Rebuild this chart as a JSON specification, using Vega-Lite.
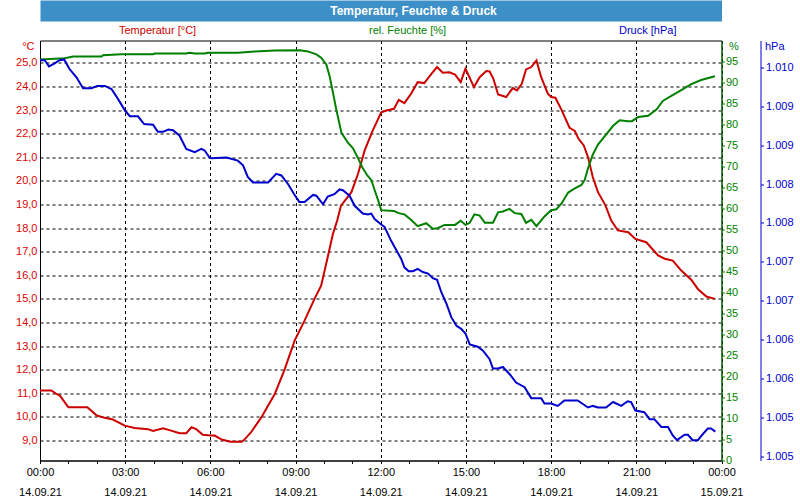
{
  "$schema": "https://vega.github.io/schema/vega-lite/v6.json",
  "autosize": {"type": "none"},
  "padding": {"left": 40, "top": 40.5, "right": 78.5, "bottom": 39.5},
  "background": "white",
  "width": 681.5,
  "height": 420,
  "config": {
    "font": "Liberation Sans",
    "axis": {"labelFont": "Liberation Sans", "labelFontSize": 11, "titleFont": "Liberation Sans", "titleFontSize": 11, "titleFontWeight": "normal"}
  },
  "datasets": {
    "temp": [
      {"t": "2021-09-14 00:00", "v": 11.12}, {"t": "2021-09-14 00:24", "v": 11.12}, {"t": "2021-09-14 00:35", "v": 10.97},
      {"t": "2021-09-14 00:42", "v": 10.9}, {"t": "2021-09-14 01:00", "v": 10.41}, {"t": "2021-09-14 01:40", "v": 10.41},
      {"t": "2021-09-14 02:00", "v": 10.06}, {"t": "2021-09-14 02:17", "v": 9.96}, {"t": "2021-09-14 02:34", "v": 9.89},
      {"t": "2021-09-14 02:59", "v": 9.63}, {"t": "2021-09-14 03:20", "v": 9.53}, {"t": "2021-09-14 03:48", "v": 9.48},
      {"t": "2021-09-14 03:59", "v": 9.4}, {"t": "2021-09-14 04:20", "v": 9.52}, {"t": "2021-09-14 04:37", "v": 9.42},
      {"t": "2021-09-14 04:55", "v": 9.31}, {"t": "2021-09-14 05:09", "v": 9.31}, {"t": "2021-09-14 05:20", "v": 9.56},
      {"t": "2021-09-14 05:30", "v": 9.48}, {"t": "2021-09-14 05:44", "v": 9.24}, {"t": "2021-09-14 06:02", "v": 9.21},
      {"t": "2021-09-14 06:09", "v": 9.21}, {"t": "2021-09-14 06:24", "v": 9.04}, {"t": "2021-09-14 06:42", "v": 8.95},
      {"t": "2021-09-14 07:06", "v": 8.95}, {"t": "2021-09-14 07:12", "v": 9.04}, {"t": "2021-09-14 07:26", "v": 9.35},
      {"t": "2021-09-14 07:48", "v": 9.99}, {"t": "2021-09-14 08:16", "v": 10.97}, {"t": "2021-09-14 08:36", "v": 11.96},
      {"t": "2021-09-14 08:58", "v": 13.23}, {"t": "2021-09-14 09:19", "v": 14.08}, {"t": "2021-09-14 09:40", "v": 15.0},
      {"t": "2021-09-14 09:54", "v": 15.56}, {"t": "2021-09-14 10:08", "v": 16.77}, {"t": "2021-09-14 10:19", "v": 17.76},
      {"t": "2021-09-14 10:28", "v": 18.32}, {"t": "2021-09-14 10:36", "v": 18.95}, {"t": "2021-09-14 10:58", "v": 19.52},
      {"t": "2021-09-14 11:12", "v": 20.3}, {"t": "2021-09-14 11:26", "v": 21.29}, {"t": "2021-09-14 11:43", "v": 22.13},
      {"t": "2021-09-14 12:01", "v": 22.9}, {"t": "2021-09-14 12:12", "v": 22.98}, {"t": "2021-09-14 12:28", "v": 23.05},
      {"t": "2021-09-14 12:38", "v": 23.43}, {"t": "2021-09-14 12:50", "v": 23.29}, {"t": "2021-09-14 13:04", "v": 23.69},
      {"t": "2021-09-14 13:18", "v": 24.18}, {"t": "2021-09-14 13:32", "v": 24.14}, {"t": "2021-09-14 13:47", "v": 24.53},
      {"t": "2021-09-14 13:59", "v": 24.82}, {"t": "2021-09-14 14:11", "v": 24.58}, {"t": "2021-09-14 14:25", "v": 24.6},
      {"t": "2021-09-14 14:37", "v": 24.5}, {"t": "2021-09-14 14:49", "v": 24.18}, {"t": "2021-09-14 14:59", "v": 24.75},
      {"t": "2021-09-14 15:17", "v": 23.97}, {"t": "2021-09-14 15:29", "v": 24.39}, {"t": "2021-09-14 15:43", "v": 24.65},
      {"t": "2021-09-14 15:50", "v": 24.63}, {"t": "2021-09-14 15:58", "v": 24.32}, {"t": "2021-09-14 16:08", "v": 23.66},
      {"t": "2021-09-14 16:25", "v": 23.55}, {"t": "2021-09-14 16:39", "v": 23.93}, {"t": "2021-09-14 16:48", "v": 23.83},
      {"t": "2021-09-14 16:58", "v": 24.11}, {"t": "2021-09-14 17:07", "v": 24.72}, {"t": "2021-09-14 17:18", "v": 24.82},
      {"t": "2021-09-14 17:29", "v": 25.1}, {"t": "2021-09-14 17:39", "v": 24.39}, {"t": "2021-09-14 17:53", "v": 23.69},
      {"t": "2021-09-14 18:00", "v": 23.55}, {"t": "2021-09-14 18:09", "v": 23.52}, {"t": "2021-09-14 18:21", "v": 23.05},
      {"t": "2021-09-14 18:39", "v": 22.25}, {"t": "2021-09-14 18:50", "v": 22.11}, {"t": "2021-09-14 18:58", "v": 21.78},
      {"t": "2021-09-14 19:09", "v": 21.5}, {"t": "2021-09-14 19:18", "v": 21.0}, {"t": "2021-09-14 19:28", "v": 20.16},
      {"t": "2021-09-14 19:39", "v": 19.52}, {"t": "2021-09-14 19:55", "v": 18.95}, {"t": "2021-09-14 20:07", "v": 18.32},
      {"t": "2021-09-14 20:21", "v": 17.9}, {"t": "2021-09-14 20:43", "v": 17.82}, {"t": "2021-09-14 20:58", "v": 17.54},
      {"t": "2021-09-14 21:21", "v": 17.4}, {"t": "2021-09-14 21:46", "v": 16.84}, {"t": "2021-09-14 22:00", "v": 16.7},
      {"t": "2021-09-14 22:17", "v": 16.62}, {"t": "2021-09-14 22:35", "v": 16.2}, {"t": "2021-09-14 22:56", "v": 15.81},
      {"t": "2021-09-14 23:10", "v": 15.42}, {"t": "2021-09-14 23:28", "v": 15.1}, {"t": "2021-09-14 23:46", "v": 15.0}
    ],
    "hum": [
      {"t": "2021-09-14 00:00", "v": 95.5}, {"t": "2021-09-14 00:52", "v": 95.8}, {"t": "2021-09-14 01:10", "v": 96.2},
      {"t": "2021-09-14 02:10", "v": 96.2}, {"t": "2021-09-14 02:13", "v": 96.5}, {"t": "2021-09-14 02:52", "v": 96.7},
      {"t": "2021-09-14 03:59", "v": 96.7}, {"t": "2021-09-14 04:02", "v": 96.9}, {"t": "2021-09-14 05:09", "v": 96.9},
      {"t": "2021-09-14 05:16", "v": 97.1}, {"t": "2021-09-14 05:27", "v": 96.9}, {"t": "2021-09-14 05:48", "v": 96.9},
      {"t": "2021-09-14 05:55", "v": 97.1}, {"t": "2021-09-14 06:58", "v": 97.1}, {"t": "2021-09-14 07:34", "v": 97.4},
      {"t": "2021-09-14 08:16", "v": 97.6}, {"t": "2021-09-14 09:09", "v": 97.7}, {"t": "2021-09-14 09:26", "v": 97.4},
      {"t": "2021-09-14 09:44", "v": 96.7}, {"t": "2021-09-14 09:54", "v": 95.9}, {"t": "2021-09-14 10:05", "v": 94.3},
      {"t": "2021-09-14 10:12", "v": 91.5}, {"t": "2021-09-14 10:19", "v": 87.6}, {"t": "2021-09-14 10:26", "v": 83.6},
      {"t": "2021-09-14 10:37", "v": 78.0}, {"t": "2021-09-14 10:51", "v": 75.6}, {"t": "2021-09-14 11:01", "v": 74.4},
      {"t": "2021-09-14 11:12", "v": 72.0}, {"t": "2021-09-14 11:20", "v": 70.0}, {"t": "2021-09-14 11:32", "v": 67.8},
      {"t": "2021-09-14 11:40", "v": 66.8}, {"t": "2021-09-14 11:47", "v": 64.4}, {"t": "2021-09-14 11:58", "v": 60.8},
      {"t": "2021-09-14 12:01", "v": 59.6}, {"t": "2021-09-14 12:12", "v": 59.5}, {"t": "2021-09-14 12:28", "v": 59.4},
      {"t": "2021-09-14 12:38", "v": 58.9}, {"t": "2021-09-14 12:50", "v": 58.6}, {"t": "2021-09-14 13:04", "v": 57.3},
      {"t": "2021-09-14 13:18", "v": 55.8}, {"t": "2021-09-14 13:36", "v": 56.5}, {"t": "2021-09-14 13:50", "v": 55.2},
      {"t": "2021-09-14 14:00", "v": 55.3}, {"t": "2021-09-14 14:15", "v": 56.1}, {"t": "2021-09-14 14:37", "v": 56.1},
      {"t": "2021-09-14 14:49", "v": 57.1}, {"t": "2021-09-14 14:59", "v": 56.1}, {"t": "2021-09-14 15:08", "v": 56.6},
      {"t": "2021-09-14 15:18", "v": 58.6}, {"t": "2021-09-14 15:29", "v": 58.3}, {"t": "2021-09-14 15:40", "v": 56.6},
      {"t": "2021-09-14 15:57", "v": 56.6}, {"t": "2021-09-14 16:08", "v": 59.1}, {"t": "2021-09-14 16:18", "v": 59.3},
      {"t": "2021-09-14 16:32", "v": 59.9}, {"t": "2021-09-14 16:43", "v": 58.9}, {"t": "2021-09-14 16:57", "v": 58.7},
      {"t": "2021-09-14 17:07", "v": 56.6}, {"t": "2021-09-14 17:18", "v": 57.3}, {"t": "2021-09-14 17:29", "v": 55.8},
      {"t": "2021-09-14 17:46", "v": 58.1}, {"t": "2021-09-14 18:00", "v": 59.6}, {"t": "2021-09-14 18:11", "v": 59.8},
      {"t": "2021-09-14 18:22", "v": 61.2}, {"t": "2021-09-14 18:36", "v": 63.8}, {"t": "2021-09-14 18:50", "v": 64.8},
      {"t": "2021-09-14 19:04", "v": 65.6}, {"t": "2021-09-14 19:11", "v": 66.8}, {"t": "2021-09-14 19:18", "v": 69.6},
      {"t": "2021-09-14 19:28", "v": 72.8}, {"t": "2021-09-14 19:39", "v": 75.2}, {"t": "2021-09-14 19:56", "v": 77.6},
      {"t": "2021-09-14 20:11", "v": 79.7}, {"t": "2021-09-14 20:25", "v": 81.0}, {"t": "2021-09-14 20:42", "v": 80.8},
      {"t": "2021-09-14 20:51", "v": 80.8}, {"t": "2021-09-14 21:04", "v": 81.8}, {"t": "2021-09-14 21:25", "v": 82.1},
      {"t": "2021-09-14 21:43", "v": 83.6}, {"t": "2021-09-14 21:56", "v": 85.6}, {"t": "2021-09-14 22:14", "v": 86.8},
      {"t": "2021-09-14 22:35", "v": 88.2}, {"t": "2021-09-14 22:56", "v": 89.6}, {"t": "2021-09-14 23:17", "v": 90.6},
      {"t": "2021-09-14 23:46", "v": 91.5}
    ],
    "pres": [
      {"t": "2021-09-14 00:00", "v": 1010.09}, {"t": "2021-09-14 00:10", "v": 1010.09}, {"t": "2021-09-14 00:19", "v": 1010.01},
      {"t": "2021-09-14 00:31", "v": 1010.05}, {"t": "2021-09-14 00:41", "v": 1010.09}, {"t": "2021-09-14 00:51", "v": 1010.1},
      {"t": "2021-09-14 01:02", "v": 1009.98}, {"t": "2021-09-14 01:17", "v": 1009.87}, {"t": "2021-09-14 01:31", "v": 1009.73},
      {"t": "2021-09-14 01:49", "v": 1009.73}, {"t": "2021-09-14 02:01", "v": 1009.76}, {"t": "2021-09-14 02:17", "v": 1009.76},
      {"t": "2021-09-14 02:31", "v": 1009.72}, {"t": "2021-09-14 02:45", "v": 1009.59}, {"t": "2021-09-14 03:00", "v": 1009.44},
      {"t": "2021-09-14 03:10", "v": 1009.37}, {"t": "2021-09-14 03:27", "v": 1009.37}, {"t": "2021-09-14 03:40", "v": 1009.27},
      {"t": "2021-09-14 03:59", "v": 1009.26}, {"t": "2021-09-14 04:09", "v": 1009.17}, {"t": "2021-09-14 04:20", "v": 1009.17},
      {"t": "2021-09-14 04:31", "v": 1009.2}, {"t": "2021-09-14 04:41", "v": 1009.19}, {"t": "2021-09-14 04:55", "v": 1009.12},
      {"t": "2021-09-14 05:09", "v": 1008.95}, {"t": "2021-09-14 05:27", "v": 1008.91}, {"t": "2021-09-14 05:41", "v": 1008.95},
      {"t": "2021-09-14 05:48", "v": 1008.93}, {"t": "2021-09-14 05:58", "v": 1008.84}, {"t": "2021-09-14 06:02", "v": 1008.83},
      {"t": "2021-09-14 06:34", "v": 1008.84}, {"t": "2021-09-14 06:58", "v": 1008.8}, {"t": "2021-09-14 07:09", "v": 1008.74},
      {"t": "2021-09-14 07:19", "v": 1008.59}, {"t": "2021-09-14 07:30", "v": 1008.52}, {"t": "2021-09-14 08:02", "v": 1008.52},
      {"t": "2021-09-14 08:19", "v": 1008.63}, {"t": "2021-09-14 08:30", "v": 1008.61}, {"t": "2021-09-14 08:44", "v": 1008.5},
      {"t": "2021-09-14 08:59", "v": 1008.35}, {"t": "2021-09-14 09:08", "v": 1008.27}, {"t": "2021-09-14 09:19", "v": 1008.27},
      {"t": "2021-09-14 09:37", "v": 1008.36}, {"t": "2021-09-14 09:44", "v": 1008.35}, {"t": "2021-09-14 09:58", "v": 1008.24},
      {"t": "2021-09-14 10:08", "v": 1008.34}, {"t": "2021-09-14 10:22", "v": 1008.37}, {"t": "2021-09-14 10:33", "v": 1008.43},
      {"t": "2021-09-14 10:40", "v": 1008.42}, {"t": "2021-09-14 10:54", "v": 1008.35}, {"t": "2021-09-14 11:05", "v": 1008.22},
      {"t": "2021-09-14 11:22", "v": 1008.12}, {"t": "2021-09-14 11:33", "v": 1008.11}, {"t": "2021-09-14 11:40", "v": 1008.12},
      {"t": "2021-09-14 11:47", "v": 1008.05}, {"t": "2021-09-14 12:01", "v": 1007.98}, {"t": "2021-09-14 12:08", "v": 1007.95},
      {"t": "2021-09-14 12:22", "v": 1007.77}, {"t": "2021-09-14 12:33", "v": 1007.65}, {"t": "2021-09-14 12:43", "v": 1007.54},
      {"t": "2021-09-14 12:50", "v": 1007.43}, {"t": "2021-09-14 12:59", "v": 1007.38}, {"t": "2021-09-14 13:08", "v": 1007.38},
      {"t": "2021-09-14 13:18", "v": 1007.41}, {"t": "2021-09-14 13:29", "v": 1007.37}, {"t": "2021-09-14 13:40", "v": 1007.35},
      {"t": "2021-09-14 13:50", "v": 1007.29}, {"t": "2021-09-14 13:59", "v": 1007.27}, {"t": "2021-09-14 14:08", "v": 1007.11},
      {"t": "2021-09-14 14:19", "v": 1006.96}, {"t": "2021-09-14 14:29", "v": 1006.79}, {"t": "2021-09-14 14:40", "v": 1006.68},
      {"t": "2021-09-14 14:50", "v": 1006.64}, {"t": "2021-09-14 14:59", "v": 1006.58}, {"t": "2021-09-14 15:08", "v": 1006.44},
      {"t": "2021-09-14 15:25", "v": 1006.41}, {"t": "2021-09-14 15:36", "v": 1006.36}, {"t": "2021-09-14 15:50", "v": 1006.25},
      {"t": "2021-09-14 15:57", "v": 1006.13}, {"t": "2021-09-14 16:08", "v": 1006.13}, {"t": "2021-09-14 16:18", "v": 1006.15},
      {"t": "2021-09-14 16:32", "v": 1006.06}, {"t": "2021-09-14 16:46", "v": 1005.95}, {"t": "2021-09-14 17:04", "v": 1005.89},
      {"t": "2021-09-14 17:18", "v": 1005.75}, {"t": "2021-09-14 17:39", "v": 1005.75}, {"t": "2021-09-14 17:46", "v": 1005.68},
      {"t": "2021-09-14 18:00", "v": 1005.68}, {"t": "2021-09-14 18:14", "v": 1005.65}, {"t": "2021-09-14 18:28", "v": 1005.72},
      {"t": "2021-09-14 18:56", "v": 1005.72}, {"t": "2021-09-14 19:18", "v": 1005.63}, {"t": "2021-09-14 19:28", "v": 1005.65},
      {"t": "2021-09-14 19:39", "v": 1005.63}, {"t": "2021-09-14 19:56", "v": 1005.63}, {"t": "2021-09-14 20:11", "v": 1005.7},
      {"t": "2021-09-14 20:28", "v": 1005.65}, {"t": "2021-09-14 20:42", "v": 1005.71}, {"t": "2021-09-14 20:49", "v": 1005.7},
      {"t": "2021-09-14 20:58", "v": 1005.59}, {"t": "2021-09-14 21:17", "v": 1005.57}, {"t": "2021-09-14 21:28", "v": 1005.48},
      {"t": "2021-09-14 21:38", "v": 1005.48}, {"t": "2021-09-14 21:53", "v": 1005.38}, {"t": "2021-09-14 22:07", "v": 1005.38},
      {"t": "2021-09-14 22:17", "v": 1005.27}, {"t": "2021-09-14 22:26", "v": 1005.21}, {"t": "2021-09-14 22:42", "v": 1005.28},
      {"t": "2021-09-14 22:49", "v": 1005.28}, {"t": "2021-09-14 22:59", "v": 1005.21}, {"t": "2021-09-14 23:10", "v": 1005.21},
      {"t": "2021-09-14 23:21", "v": 1005.29}, {"t": "2021-09-14 23:31", "v": 1005.36}, {"t": "2021-09-14 23:38", "v": 1005.36},
      {"t": "2021-09-14 23:47", "v": 1005.32}
    ]
  },
  "view": {"stroke": "black", "strokeWidth": 1, "fill": "white"},
  "encoding": {
    "x": {
      "field": "t",
      "type": "temporal",
      "scale": {"nice": "day"},
      "axis": {
        "title": null,
        "tickCount": 24,
        "labelExpr": "hours(datum.value) % 3 == 0 ? [timeFormat(datum.value, '%H:%M'), timeFormat(datum.value, '%d.%m.%y')] : ''",
        "labelOverlap": false,
        "labelFlush": false,
        "labelLineHeight": 20,
        "labelPadding": 3,
        "labelColor": "black",
        "tickSize": 3,
        "tickColor": "black",
        "domainColor": "black",
        "grid": true,
        "gridColor": "black",
        "gridDash": [3, 3],
        "gridOpacity": {"condition": {"test": "hours(datum.value) % 3 == 0", "value": 1}, "value": 0}
      }
    }
  },
  "layer": [
    {
      "data": {"name": "temp"},
      "mark": {"type": "line", "strokeWidth": 2},
      "encoding": {
        "y": {
          "field": "v",
          "type": "quantitative",
          "scale": {"domain": [8.153, 25.945], "nice": false, "zero": false},
          "axis": {
            "orient": "left",
            "values": [9, 10, 11, 12, 13, 14, 15, 16, 17, 18, 19, 20, 21, 22, 23, 24, 25],
            "labelExpr": "replace(format(datum.value, '.1f'), '.', ',')",
            "grid": true,
            "gridColor": "black",
            "gridDash": [3, 3],
            "gridOpacity": 1,
            "domainColor": "black",
            "ticks": false,
            "labelPadding": 3,
            "labelColor": "#dd0000",
            "title": "°C",
            "titleColor": "#dd0000",
            "titleAngle": 0,
            "titleAlign": "right",
            "titleBaseline": "middle",
            "titleX": -6,
            "titleY": 6
          }
        },
        "color": {
          "datum": "Temperatur [°C]",
          "type": "nominal",
          "scale": {"domain": ["Temperatur [°C]", "rel. Feuchte [%]", "Druck [hPa]"], "range": ["#cc0000", "#008000", "#0000cc"]},
          "legend": {
            "orient": "none",
            "legendX": 68,
            "legendY": -15,
            "direction": "horizontal",
            "columns": 3,
            "title": null,
            "symbolSize": 0,
            "symbolStrokeWidth": 0,
            "symbolOpacity": 0,
            "labelOffset": 0,
            "columnPadding": 161,
            "labelFont": "Liberation Sans",
            "labelFontSize": 11,
            "encode": {"labels": {"update": {"fill": {"scale": "color", "field": "value"}}}}
          }
        }
      }
    },
    {
      "data": {"name": "hum"},
      "mark": {"type": "line", "strokeWidth": 2},
      "encoding": {
        "x": {"field": "t", "type": "temporal", "axis": null},
        "y": {
          "field": "v",
          "type": "quantitative",
          "scale": {"domain": [0, 100], "nice": false},
          "axis": {
            "orient": "right",
            "values": [0, 5, 10, 15, 20, 25, 30, 35, 40, 45, 50, 55, 60, 65, 70, 75, 80, 85, 90, 95],
            "grid": false,
            "domainColor": "#008000",
            "tickColor": "#008000",
            "tickSize": 3,
            "labelPadding": 1,
            "labelColor": "#008000",
            "title": "%",
            "titleColor": "#008000",
            "titleAngle": 0,
            "titleAlign": "left",
            "titleBaseline": "middle",
            "titleX": 7,
            "titleY": 6
          }
        },
        "color": {"datum": "rel. Feuchte [%]", "type": "nominal"}
      }
    },
    {
      "data": {"name": "pres"},
      "mark": {"type": "line", "strokeWidth": 2},
      "encoding": {
        "x": {
          "field": "t",
          "type": "temporal",
          "axis": {
            "orient": "top",
            "offset": 30,
            "grid": false,
            "ticks": false,
            "labels": false,
            "domain": true,
            "domainColor": "#3d8fc7",
            "domainWidth": 21,
            "title": "Temperatur, Feuchte & Druck",
            "titleColor": "white",
            "titleFont": "Liberation Sans",
            "titleFontSize": 12,
            "titleFontWeight": "bold",
            "titleAngle": 0,
            "titleAlign": "center",
            "titleBaseline": "middle",
            "titleX": 373,
            "titleY": 0
          }
        },
        "y": {
          "field": "v",
          "type": "quantitative",
          "scale": {"domain": [1004.949, 1010.343], "nice": false, "zero": false},
          "axis": {
            "orient": "right",
            "offset": 39,
            "values": [1005, 1005.5, 1006, 1006.5, 1007, 1007.5, 1008, 1008.5, 1009, 1009.5, 1010],
            "labelExpr": "'1.' + format(floor(datum.value) - 1000, '03d')",
            "grid": false,
            "domainColor": "#0000cc",
            "tickColor": "#0000cc",
            "tickSize": 3,
            "labelPadding": 2,
            "labelColor": "#0000cc",
            "title": "hPa",
            "titleColor": "#0000cc",
            "titleAngle": 0,
            "titleAlign": "left",
            "titleBaseline": "middle",
            "titleX": 4,
            "titleY": 6
          }
        },
        "color": {"datum": "Druck [hPa]", "type": "nominal"}
      }
    }
  ],
  "resolve": {"scale": {"y": "independent"}, "axis": {"x": "independent"}}
}
